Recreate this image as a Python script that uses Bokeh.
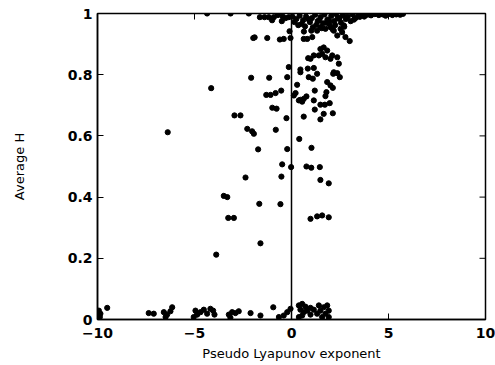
import math
from bokeh.plotting import figure
from bokeh.models import Span, FixedTicker, Range1d, ColumnDataSource
from bokeh.embed import file_html
from bokeh.resources import INLINE

x_ticks = [-10, -5, 0, 5, 10]
y_ticks = [0, 0.2, 0.4, 0.6, 0.8, 1]

# negative exponents, mid range
neg_x = [-6.38, -4.14, -2.94, -2.63, -2.08, -1.97, -1.90, -1.25, -1.15, -2.28, -2.03, -1.94,
         -1.72, -1.30, -1.08, -0.82, -0.99, -0.77, -0.81, -2.37, -0.60, -0.40, -0.05, -0.10,
         -0.22, -0.53, -0.26, -0.22, -0.48, -0.02, -0.52, -3.49, -3.31, -1.66, -0.57, -3.26,
         -2.97, -1.60, -3.88, -0.14]
neg_y = [0.612, 0.756, 0.667, 0.667, 0.790, 0.920, 0.922, 0.920, 0.790, 0.623, 0.615, 0.607,
         0.556, 0.734, 0.734, 0.740, 0.692, 0.689, 0.620, 0.464, 0.915, 0.917, 0.920, 0.942,
         0.792, 0.748, 0.658, 0.557, 0.507, 0.498, 0.467, 0.404, 0.400, 0.378, 0.377, 0.332,
         0.332, 0.249, 0.212, 0.825]

# positive exponents, mid range
pos_x = [0.29, 0.21, 0.12, 0.38, 0.40, 0.46, 0.89, 1.10, 1.32, 2.15, 2.36, 2.49, 1.84, 2.01,
         2.13, 1.20, 1.80, 1.75, 0.77, 0.63, 0.46, 0.55, 1.15, 1.49, 1.72, 1.97, 1.20, 1.66,
         1.49, 2.13, 0.63, 1.03, 0.77, 1.02, 1.46, 1.49, 1.92, 0.98, 1.32, 1.58, 1.92, 0.46,
         0.84, 1.15, 0.86, 2.18, 2.44, 1.15, 0.98, 1.49, 1.66, 1.84, 1.41, 1.58, 1.75, 2.10,
         2.01, 2.36, 0.63, 0.81, 1.07, 1.32, 1.49, 1.75, 2.01, 2.18, 2.36, 2.53, 2.70, 3.00,
         2.61, 2.78]
pos_y = [0.767, 0.740, 0.732, 0.716, 0.590, 0.808, 0.792, 0.787, 0.803, 0.803, 0.805, 0.792,
         0.776, 0.765, 0.757, 0.748, 0.743, 0.730, 0.729, 0.721, 0.718, 0.712, 0.716, 0.702,
         0.702, 0.707, 0.686, 0.672, 0.654, 0.674, 0.663, 0.561, 0.500, 0.496, 0.498, 0.456,
         0.445, 0.329, 0.337, 0.340, 0.334, 0.817, 0.820, 0.822, 0.854, 0.808, 0.836, 0.863,
         0.852, 0.884, 0.889, 0.879, 0.863, 0.868, 0.857, 0.863, 0.852, 0.857, 0.917, 0.917,
         0.923, 0.944, 0.955, 0.950, 0.955, 0.944, 0.928, 0.950, 0.961, 0.910, 0.939, 0.923]

# top band, average H close to 1
top_x = [-4.35, -3.14, -2.20, -1.63, -1.39, -1.17, -0.91, -0.14, -0.70, -0.45, -0.30, 0.05,
         0.25, 0.42, 0.60, 0.75, 0.95, 1.05, 1.22, 1.35, 1.50, 1.62, 1.70, 1.85, 1.95, 2.05,
         2.20, 2.30, 2.45, 2.55, 2.65, 2.80, 2.90, 3.05, 3.15, 3.30, 3.45, 3.60, 3.75, 3.90,
         4.10, 4.30, 4.50, 4.70, 4.85, 5.00, 5.20, 5.40, 5.60, 5.75, 0.35, 0.70, 1.10, 1.80,
         2.25, -0.50, -1.00, 0.15, 0.52, 0.88, 1.28, 1.56, 2.12, 2.38, 2.72, 1.02, 1.42, 2.48,
         0.64, 1.94, 3.22, 3.52]
top_y = [1.000, 1.000, 1.000, 0.988, 0.988, 0.988, 0.988, 0.988, 0.995, 0.990, 0.985, 0.990,
         0.982, 0.993, 0.978, 0.990, 0.972, 0.985, 0.996, 0.975, 0.988, 0.968, 0.997, 0.980,
         0.965, 0.992, 0.975, 0.998, 0.985, 0.970, 0.995, 0.982, 0.990, 0.975, 0.997, 0.985,
         0.993, 0.998, 0.990, 0.996, 0.994, 0.998, 0.995, 0.997, 0.993, 0.998, 0.995, 0.997,
         0.996, 0.999, 0.962, 0.958, 0.955, 0.970, 0.962, 0.975, 0.978, 0.972, 0.966, 0.981,
         0.963, 0.952, 0.948, 0.984, 0.957, 0.944, 0.978, 0.986, 0.941, 0.976, 0.980, 0.989]

# bottom band, average H close to 0
bot_x = [-9.93, -9.85, -9.88, -9.50, -7.36, -7.10, -6.58, -6.41, -6.24, -6.15, -6.49, -4.95,
         -4.86, -4.69, -4.52, -4.35, -4.18, -4.04, -3.97, -5.04, -3.23, -3.06, -2.89, -2.72,
         -3.15, -2.11, -1.60, -0.94, -0.65, -0.40, -0.22, -0.05, 0.38, 0.55, 0.72, 0.46, 0.63,
         0.81, 0.98, 1.15, 1.41, 1.49, 1.66, 1.84, 1.92, 1.75, 1.32, 0.98, 0.55, 0.38, 1.58,
         1.92]
bot_y = [0.029, 0.019, 0.008, 0.038, 0.021, 0.019, 0.024, 0.016, 0.027, 0.040, 0.008, 0.029,
         0.016, 0.024, 0.032, 0.019, 0.035, 0.029, 0.016, 0.008, 0.016, 0.024, 0.021, 0.027,
         0.006, 0.021, 0.013, 0.040, 0.008, 0.013, 0.024, 0.035, 0.046, 0.051, 0.042, 0.032,
         0.024, 0.029, 0.038, 0.032, 0.046, 0.029, 0.040, 0.046, 0.029, 0.019, 0.019, 0.016,
         0.013, 0.008, 0.008, 0.008]

lyap = neg_x + pos_x + top_x + bot_x
avg_h = neg_y + pos_y + top_y + bot_y
src = ColumnDataSource(data=dict(x=lyap, y=avg_h))

X_MIN, X_MAX = x_ticks[0], x_ticks[-1]
Y_MIN, Y_MAX = y_ticks[0], y_ticks[-1]

p = figure(frame_width=388, frame_height=306,
           x_range=Range1d(X_MIN, X_MAX), y_range=Range1d(Y_MIN, Y_MAX),
           output_backend="svg", toolbar_location=None,
           min_border_left=97, min_border_right=10, min_border_top=13, min_border_bottom=44,
           background_fill_color="white", border_fill_color="white")
p.grid.visible = False
p.outline_line_color = "black"
p.outline_line_width = 1.5

p.scatter("x", "y", source=src, size=5.2, color="black", marker="circle")

p.add_layout(Span(location=0, dimension="height", line_color="black", line_width=1.5))

# mirrored inward tick marks on the top and right edges
p.ray(x=x_ticks, y=[Y_MAX] * len(x_ticks), length=6, length_units="screen",
      angle=-math.pi / 2, line_color="black", line_width=1)
p.ray(x=[X_MAX] * len(y_ticks), y=y_ticks, length=6, length_units="screen",
      angle=math.pi, line_color="black", line_width=1)

p.xaxis.ticker = FixedTicker(ticks=x_ticks)
p.yaxis.ticker = FixedTicker(ticks=y_ticks)
p.yaxis.major_label_overrides = {0: "0", 1: "1"}
p.xaxis.axis_label = "Pseudo Lyapunov exponent"
p.yaxis.axis_label = "Average H"

for ax in (p.xaxis[0], p.yaxis[0]):
    ax.axis_line_color = "black"
    ax.axis_line_width = 1.5
    ax.major_tick_in = 6
    ax.major_tick_out = 0
    ax.major_tick_line_color = "black"
    ax.minor_tick_line_color = None
    ax.major_label_text_font = "DejaVu Sans"
    ax.major_label_text_font_style = "bold"
    ax.major_label_text_font_size = "14px"
    ax.major_label_text_color = "black"
    ax.axis_label_text_font = "DejaVu Sans"
    ax.axis_label_text_font_style = "normal"
    ax.axis_label_text_font_size = "13px"
    ax.axis_label_text_color = "black"

p.xaxis.major_label_standoff = 8
p.xaxis.axis_label_standoff = 5
p.yaxis.major_label_standoff = 5
p.yaxis.axis_label_standoff = 38

open("out.html", "w").write(file_html(p, INLINE))
